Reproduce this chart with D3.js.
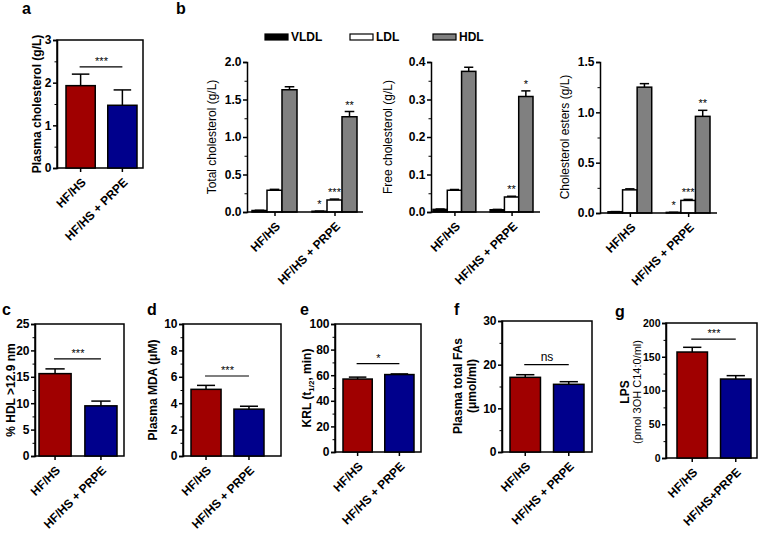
<!DOCTYPE html>
<html><head><meta charset="utf-8">
<script src="https://cdn.jsdelivr.net/npm/d3@7"></script>
<style>body{margin:0;background:#fff}svg{display:block;font-family:Arial,"Liberation Sans",sans-serif}</style>
</head><body><svg id="chart" width="759" height="533"></svg>
<script>
// ---------- data ----------
const groups = ["HF/HS", "HF/HS + PRPE"];
const groupsG = ["HF/HS", "HF/HS+PRPE"];
const lipoClasses = ["VLDL", "LDL", "HDL"];

// a: plasma cholesterol (g/L)
const plasmaChol = [1.93, 1.47];
const plasmaCholErr = [0.27, 0.36];
const plasmaCholSig = ["***", 2.37];

// b: lipoprotein fractions (rows = group, cols = VLDL, LDL, HDL)
const totalChol = [[0.02, 0.29, 1.63], [0.01, 0.16, 1.27]];
const totalCholErr = [[0.003, 0.012, 0.04], [0.002, 0.012, 0.07]];
const totalCholSig = [["", "", ""], ["*", "***", "**"]];
const freeChol = [[0.007, 0.058, 0.375], [0.006, 0.040, 0.308]];
const freeCholErr = [[0.001, 0.002, 0.011], [0.001, 0.002, 0.015]];
const freeCholSig = [["", "", ""], ["", "**", "*"]];
const cholEsters = [[0.012, 0.23, 1.25], [0.006, 0.125, 0.96]];
const cholEstersErr = [[0.002, 0.01, 0.035], [0.001, 0.01, 0.06]];
const cholEstersSig = [["", "", ""], ["*", "***", "**"]];

// c-g
const hdlLarge = [15.6, 9.5], hdlLargeErr = [0.9, 0.9], hdlLargeSig = ["***", 18.4];
const mda = [5.05, 3.55], mdaErr = [0.3, 0.22], mdaSig = ["***", 6.06];
const krl = [57, 60.5], krlErr = [1.5, 0.5], krlSig = ["*", 69];
const totalFAs = [17.1, 15.5], totalFAsErr = [0.6, 0.6], totalFAsSig = ["ns", 20];
const lps = [157, 117], lpsErr = [7, 5], lpsSig = ["***", 176];

// ---------- styles ----------
const RED = "#a00000", BLUE = "#00008c";
const lipoFill = ["#000000", "#ffffff", "#808080"];
const svg = d3.select("#chart");

function styleAxis(g, fs) {
  g.selectAll("path,line").attr("stroke", "#000").attr("stroke-width", 1.5);
  g.selectAll("text").attr("font-size", fs || 12).attr("font-weight", "bold").attr("fill", "#000");
}

function rotateLabels(g) {
  g.selectAll("text")
    .attr("x", 0).attr("y", 0).attr("dy", "0.35em")
    .attr("text-anchor", "end")
    .attr("transform", "translate(3,12) rotate(-45)");
}

function yAxes(g, y, left, domainMax, major, minor, fmt, fs) {
  const majors = d3.range(0, domainMax + major / 1000, major);
  const minors = d3.range(0, domainMax + minor / 1000, minor).filter(v => majors.every(m => Math.abs(m - v) > 1e-9));
  const ga = g.append("g").attr("transform", `translate(${left},0)`)
    .call(d3.axisLeft(y).tickValues(majors).tickSize(4).tickPadding(1.5).tickFormat(d3.format(fmt)));
  styleAxis(ga, fs);
  const gm = g.append("g").attr("transform", `translate(${left},0)`)
    .call(d3.axisLeft(y).tickValues(minors).tickSize(2.5).tickFormat(""));
  gm.select(".domain").remove();
  gm.selectAll("line").attr("stroke", "#000").attr("stroke-width", 1);
  return ga;
}

function yLabel(lines, cx, cy, weights, sizes, gap) {
  const n = lines.length;
  lines.forEach((ln, i) => {
    const x = cx + (i - (n - 1) / 2) * (gap || 14);
    const t = svg.append("text")
      .attr("transform", `translate(${x},${cy}) rotate(-90)`)
      .attr("text-anchor", "middle").attr("dy", "0.35em").attr("fill", "#000")
      .attr("font-size", sizes ? sizes[i] : 12)
      .attr("font-weight", weights ? weights[i] : "bold");
    if (Array.isArray(ln)) {
      ln.forEach(part => {
        const ts = t.append("tspan").text(part.t);
        if (part.sub) ts.attr("font-size", 8).attr("dy", 3);
        if (part.after) ts.attr("dy", -3);
      });
    } else t.text(ln);
  });
}

function letter(ch, x, y) {
  svg.append("text").attr("x", x).attr("y", y).text(ch)
    .attr("font-size", 16).attr("font-weight", "bold").attr("fill", "#000");
}

function simplePanel(c) {
  const [xl, xr, yt, yb] = c.frame;
  const g = svg.append("g");
  const y = d3.scaleLinear().domain([0, c.ymax]).range([yb, yt]);
  const x = d3.scaleBand().domain(c.cats).range(c.bars).paddingInner(c.pad || 0.3).paddingOuter(0);
  const bw = x.bandwidth();
  // frame
  g.append("rect").attr("x", xl).attr("y", yt).attr("width", xr - xl).attr("height", yb - yt)
    .attr("fill", "none").attr("stroke", "#000").attr("stroke-width", 1.5);
  yAxes(g, y, xl, c.ymax, c.major, c.minor, c.fmt || "d", c.tickFs);
  // bars
  g.selectAll(".bar").data(c.values).join("rect")
    .attr("x", (d, i) => x(c.cats[i])).attr("width", bw)
    .attr("y", d => y(d)).attr("height", d => yb - y(d))
    .attr("fill", (d, i) => [RED, BLUE][i]).attr("stroke", "#000").attr("stroke-width", 1.5);
  // error bars
  c.values.forEach((v, i) => {
    const cx = x(c.cats[i]) + bw / 2, top = y(v + c.errs[i]);
    g.append("line").attr("x1", cx).attr("x2", cx).attr("y1", y(v)).attr("y2", top).attr("stroke", "#000").attr("stroke-width", 1.5);
    g.append("line").attr("x1", cx - bw * 0.3).attr("x2", cx + bw * 0.3).attr("y1", top).attr("y2", top).attr("stroke", "#000").attr("stroke-width", 1.5);
  });
  // significance
  const c1 = x(c.cats[0]) + bw / 2, c2 = x(c.cats[1]) + bw / 2, sy = y(c.sig[1]);
  g.append("line").attr("x1", c1 - 1).attr("x2", c2).attr("y1", sy).attr("y2", sy).attr("stroke", "#000").attr("stroke-width", 1.2);
  g.append("text").attr("x", (c1 + c2) / 2).attr("y", c.sig[0] === "ns" ? sy - 4 : sy - 2)
    .attr("text-anchor", "middle").attr("fill", "#000").attr("font-size", c.sig[0] === "ns" ? 12 : 11).text(c.sig[0]);
  // x axis ticks + labels
  const gx = g.append("g").attr("transform", `translate(0,${yb})`)
    .call(d3.axisBottom(x).tickSize(4).tickSizeOuter(0).tickFormat((d, i) => c.labels[i]));
  gx.select(".domain").remove();
  styleAxis(gx);
  rotateLabels(gx);
}

function groupedPanel(c) {
  const g = svg.append("g");
  const y = d3.scaleLinear().domain([0, c.ymax]).range([c.yb, c.yt]);
  const x0 = d3.scaleBand().domain(groups).range(c.bars).paddingInner(0.25).paddingOuter(0);
  const x1 = d3.scaleBand().domain(lipoClasses).range([0, x0.bandwidth()]).padding(0);
  const bw = x1.bandwidth();
  yAxes(g, y, c.axisX, c.ymax, c.major, c.minor, c.fmt);
  groups.forEach((grp, gi) => {
    lipoClasses.forEach((lc, li) => {
      const v = c.values[gi][li], e = c.errs[gi][li];
      const bx = x0(grp) + x1(lc), cx = bx + bw / 2;
      const top = y(v + e);
      g.append("line").attr("x1", cx).attr("x2", cx).attr("y1", y(v)).attr("y2", top).attr("stroke", "#000").attr("stroke-width", 1.5);
      g.append("line").attr("x1", cx - bw * 0.32).attr("x2", cx + bw * 0.32).attr("y1", top).attr("y2", top).attr("stroke", "#000").attr("stroke-width", 1.5);
      g.append("rect").attr("x", bx).attr("width", bw).attr("y", y(v)).attr("height", c.yb - y(v))
        .attr("fill", lipoFill[li]).attr("stroke", "#000").attr("stroke-width", 1.5);
      const s = c.sig[gi][li];
      if (s) g.append("text").attr("x", cx).attr("y", top - 3).attr("text-anchor", "middle")
        .attr("fill", "#000").attr("font-size", 11).text(s);
    });
  });
  // x axis line
  g.append("line").attr("x1", c.axisX).attr("x2", c.axisEnd).attr("y1", c.yb).attr("y2", c.yb)
    .attr("stroke", "#000").attr("stroke-width", 1.5);
  const xc = d3.scalePoint().domain(groups).range([x0(groups[0]) + x0.bandwidth() / 2, x0(groups[1]) + x0.bandwidth() / 2]);
  const gx = g.append("g").attr("transform", `translate(0,${c.yb})`)
    .call(d3.axisBottom(xc).tickSize(4).tickSizeOuter(0));
  gx.select(".domain").remove();
  styleAxis(gx);
  rotateLabels(gx);
}

// ---------- panel a ----------
letter("a", 22, 14);
simplePanel({frame: [57, 143, 40, 168], bars: [66, 137], ymax: 3, major: 1, minor: 0.5,
  cats: groups, labels: groups, values: plasmaChol, errs: plasmaCholErr, sig: plasmaCholSig});
yLabel(["Plasma cholesterol (g/L)"], 37, 104);

// ---------- panel b ----------
letter("b", 176, 14);
// legend
lipoClasses.forEach((lc, i) => {
  const lx = [265, 350, 433][i];
  svg.append("rect").attr("x", lx).attr("y", 34).attr("width", 23).attr("height", 6)
    .attr("fill", lipoFill[i]).attr("stroke", "#000").attr("stroke-width", 1.2);
  svg.append("text").attr("x", lx + 26).attr("y", 37).attr("dy", "0.35em").attr("fill", "#000")
    .attr("font-size", 12).attr("font-weight", "bold").text(lc);
});
groupedPanel({axisX: 247, axisEnd: 363, yt: 62, yb: 212, bars: [252, 357], ymax: 2.0, major: 0.5, minor: 0.25, fmt: ".1f",
  values: totalChol, errs: totalCholErr, sig: totalCholSig});
yLabel(["Total cholesterol (g/L)"], 212, 137, ["normal"]);
groupedPanel({axisX: 431, axisEnd: 540, yt: 62, yb: 212, bars: [433, 533], ymax: 0.4, major: 0.1, minor: 0.05, fmt: ".1f",
  values: freeChol, errs: freeCholErr, sig: freeCholSig});
yLabel(["Free cholesterol (g/L)"], 388, 137, ["normal"]);
groupedPanel({axisX: 600, axisEnd: 717, yt: 62, yb: 213, bars: [608, 710], ymax: 1.5, major: 0.5, minor: 0.25, fmt: ".1f",
  values: cholEsters, errs: cholEstersErr, sig: cholEstersSig});
yLabel(["Cholesterol esters (g/L)"], 565, 137, ["normal"]);

// ---------- panel c ----------
letter("c", 2, 315);
simplePanel({frame: [35, 124, 324, 456], bars: [39, 117], ymax: 25, major: 5, minor: 2.5,
  cats: groups, labels: groups, values: hdlLarge, errs: hdlLargeErr, sig: hdlLargeSig});
yLabel(["% HDL >12.9 nm"], 11, 390);

// ---------- panel d ----------
letter("d", 147, 315);
simplePanel({frame: [183, 281, 324, 456], bars: [191, 264], ymax: 10, major: 2, minor: 1,
  cats: groups, labels: groups, values: mda, errs: mdaErr, sig: mdaSig});
yLabel(["Plasma MDA (μM)"], 153, 390);

// ---------- panel e ----------
letter("e", 300, 315);
simplePanel({frame: [335, 421, 324, 452], bars: [343, 414], ymax: 100, major: 20, minor: 10,
  cats: groups, labels: groups, values: krl, errs: krlErr, sig: krlSig});
yLabel([[{t: "KRL (t"}, {t: "1/2", sub: true}, {t: ", min)", after: true}]], 307, 388);

// ---------- panel f ----------
letter("f", 454, 315);
simplePanel({frame: [502, 592, 321, 452], bars: [510, 584], ymax: 30, major: 10, minor: 5,
  cats: groups, labels: groups, values: totalFAs, errs: totalFAsErr, sig: totalFAsSig});
yLabel(["Plasma total FAs", "(μmol/ml)"], 465, 386);

// ---------- panel g ----------
letter("g", 615, 317);
simplePanel({frame: [666, 757, 323, 458], bars: [677, 751], ymax: 200, major: 50, minor: 25, tickFs: 10.5,
  cats: groupsG, labels: groupsG, values: lps, errs: lpsErr, sig: lpsSig});
yLabel(["LPS", "(pmol 3OH C14:0/ml)"], 631, 392, ["bold", "normal"], [12, 11], 12);
</script></body></html>
